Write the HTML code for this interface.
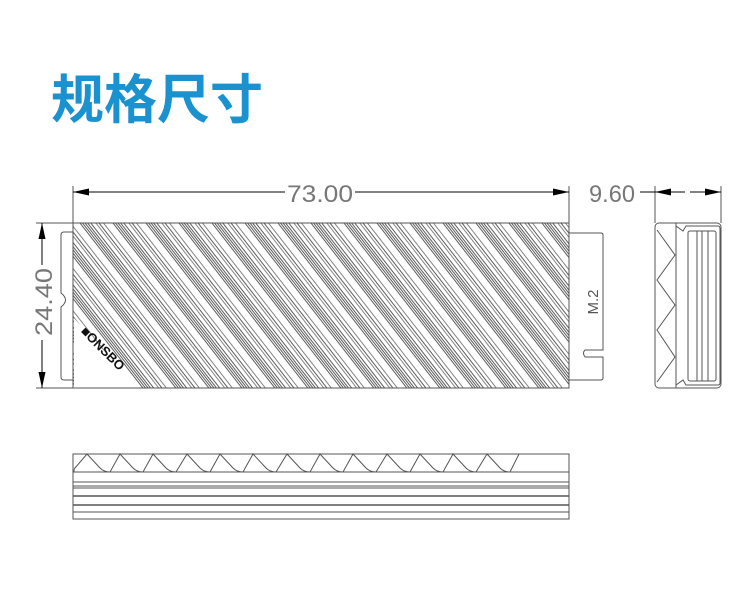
<!DOCTYPE html>
<html><head><meta charset="utf-8"><style>
html,body{margin:0;padding:0;background:#fff;width:750px;height:603px;overflow:hidden}
svg{display:block}
</style></head><body>
<svg width="750" height="603" viewBox="0 0 750 603" xmlns="http://www.w3.org/2000/svg">
<defs>
<pattern id="h" patternUnits="userSpaceOnUse" width="26" height="40" patternTransform="rotate(-38 73 223)">
<g stroke="#333" stroke-width="0.8">
<line x1="0.5" y1="0" x2="0.5" y2="40"/><line x1="2.5" y1="0" x2="2.5" y2="40"/><line x1="4.5" y1="0" x2="4.5" y2="40"/><line x1="6.5" y1="0" x2="6.5" y2="40"/><line x1="9" y1="0" x2="9" y2="40"/><line x1="13" y1="0" x2="13" y2="40" stroke="#666"/><line x1="15.5" y1="0" x2="15.5" y2="40"/><line x1="19" y1="0" x2="19" y2="40" stroke="#666"/>
</g>
</pattern>
<marker id="a" markerWidth="16" markerHeight="7" refX="16" refY="3.5" orient="auto" markerUnits="userSpaceOnUse"><path d="M0,0L16,3.5L0,7z" fill="#000"/></marker>
<marker id="b" markerWidth="16" markerHeight="7" refX="0" refY="3.5" orient="auto" markerUnits="userSpaceOnUse"><path d="M16,0L0,3.5L16,7z" fill="#000"/></marker>
</defs>
<text x="51" y="118" font-family="'Liberation Sans','Noto Sans CJK SC',sans-serif" font-weight="bold" font-size="53" fill="#1a92d0">规格尺寸</text>

<!-- top view -->
<g fill="none" stroke="#555" stroke-width="1">
<line x1="73" y1="186" x2="73" y2="223"/><line x1="569" y1="186" x2="569" y2="223"/>
<line x1="36" y1="223" x2="73" y2="223"/><line x1="36" y1="388" x2="73" y2="388"/>
<path d="M73,232 H64 Q61,232 61,235 V293 Q70,300 61,307 V377 Q61,380 64,380 H73"/>
<path d="M569,233 H601 Q603,233 603,235 V350 H585 Q582,353 585,357 H603 V378 Q603,380 601,380 H569"/>
</g>
<rect x="73" y="223" width="496" height="165" fill="url(#h)"/>
<polygon points="74,318 74,388 138,388" fill="#fff"/>
<rect x="73" y="223" width="496" height="165" fill="none" stroke="#555" stroke-width="1"/>
<line x1="73" y1="192" x2="285" y2="192" stroke="#000" marker-start="url(#b)"/>
<line x1="355" y1="192" x2="569" y2="192" stroke="#000" marker-end="url(#a)"/>
<text x="320" y="202" text-anchor="middle" font-family="'Liberation Sans',sans-serif" font-size="24" fill="#777" textLength="66" lengthAdjust="spacingAndGlyphs">73.00</text>
<line x1="42" y1="223" x2="42" y2="265" stroke="#000" marker-start="url(#b)"/>
<line x1="42" y1="340" x2="42" y2="388" stroke="#000" marker-end="url(#a)"/>
<text transform="translate(52,302) rotate(-90)" text-anchor="middle" font-family="'Liberation Sans',sans-serif" font-size="24" fill="#777" textLength="68" lengthAdjust="spacingAndGlyphs">24.40</text>
<text transform="translate(80,332) rotate(45)" font-family="'Liberation Sans',sans-serif" font-weight="bold" font-size="13" fill="#111">■ONSBO</text>
<text transform="translate(598,302) rotate(-90)" text-anchor="middle" font-family="'Liberation Sans',sans-serif" font-size="15" fill="#555">M.2</text>

<!-- side view -->
<g fill="none" stroke="#555" stroke-width="1">
<line x1="655" y1="186" x2="655" y2="223"/><line x1="721" y1="186" x2="721" y2="223"/>
<rect x="655" y="223" width="66" height="165" rx="4"/>
<line x1="676" y1="223" x2="676" y2="388"/>
<polyline points="657,230 675,255 657,280 675,305 657,330 675,357 657,382"/>
<path d="M676,226 L683,231 L686,226 H718 Q720,226 720,229 V383 Q720,385 718,385 H686 L683,380 L676,385"/>
<rect x="688" y="231" width="28" height="150" rx="2"/>
<line x1="697" y1="231" x2="697" y2="381"/><line x1="702" y1="231" x2="702" y2="381"/><line x1="708" y1="231" x2="708" y2="381"/>
</g>
<line x1="640" y1="192" x2="655" y2="192" stroke="#000"/>
<line x1="655" y1="192" x2="685" y2="192" stroke="#000" marker-start="url(#b)"/>
<line x1="690" y1="192" x2="721" y2="192" stroke="#000" marker-end="url(#a)"/>
<text x="612" y="202" text-anchor="middle" font-family="'Liberation Sans',sans-serif" font-size="24" fill="#777" textLength="46" lengthAdjust="spacingAndGlyphs">9.60</text>

<!-- bottom view -->
<g fill="none" stroke="#555" stroke-width="1">
<rect x="73" y="454" width="496" height="65"/>
<line x1="73" y1="472" x2="569" y2="472"/>
<line x1="73" y1="482" x2="569" y2="482"/>
<line x1="73" y1="486" x2="569" y2="486"/>
<line x1="73" y1="488" x2="569" y2="488"/>
<line x1="73" y1="496" x2="569" y2="496" stroke-width="1.5"/>
<line x1="73" y1="505" x2="569" y2="505" stroke-width="1.5"/>
<line x1="73" y1="512" x2="569" y2="512"/>
<path d="M74,472 Q74,468 75,468 L87,454 L100,468 Q104,472 110,472
 M110,472 L120,454 L133,468 Q137,472 143,472
 M143,472 L153,454 L166,468 Q170,472 176,472
 M176,472 L187,454 L200,468 Q204,472 210,472
 M210,472 L220,454 L233,468 Q237,472 243,472
 M243,472 L253,454 L266,468 Q270,472 276,472
 M276,472 L287,454 L300,468 Q304,472 310,472
 M310,472 L320,454 L333,468 Q337,472 343,472
 M343,472 L353,454 L366,468 Q370,472 376,472
 M376,472 L387,454 L400,468 Q404,472 410,472
 M410,472 L420,454 L433,468 Q437,472 443,472
 M443,472 L453,454 L466,468 Q470,472 476,472
 M476,472 L487,454 L500,468 Q504,472 510,472
 M510,472 L519,454"/>
</g>
</svg>
</body></html>
